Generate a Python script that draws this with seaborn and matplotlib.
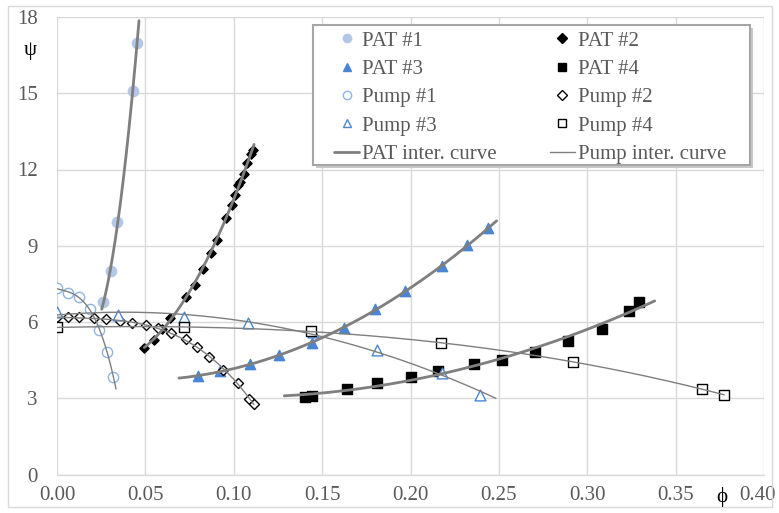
import numpy as np
import pandas as pd
import matplotlib
matplotlib.use("Agg")
import matplotlib.pyplot as plt
import matplotlib.transforms as mtransforms
from matplotlib.lines import Line2D
from matplotlib.patches import Rectangle
import seaborn as sns

# ---- measured points (flow coefficient phi, head coefficient psi) ----
pat1_phi = [0.0262, 0.0304, 0.0341, 0.0430, 0.0452]
pat1_psi = [6.78, 7.99, 9.94, 15.08, 16.97]

pat2_phi = [0.0494, 0.0547, 0.0592, 0.0639, 0.0728, 0.0779, 0.0828, 0.0872, 0.0905,
            0.0954, 0.0988, 0.1005, 0.1022, 0.1037, 0.1060, 0.1073, 0.1096, 0.1110]
pat2_psi = [4.96, 5.29, 5.72, 6.15, 7.00, 7.47, 8.07, 8.72, 9.22,
            10.10, 10.60, 11.00, 11.38, 11.51, 11.84, 12.24, 12.60, 12.76]

pat3_phi = [0.0799, 0.0922, 0.1090, 0.1256, 0.1440, 0.1623, 0.1800, 0.1970, 0.2176, 0.2321, 0.2440]
pat3_psi = [3.87, 4.08, 4.33, 4.70, 5.16, 5.77, 6.50, 7.22, 8.20, 9.02, 9.68]

pat4_phi = [0.1403, 0.1444, 0.1642, 0.1813, 0.2002, 0.2157, 0.2360, 0.2519,
            0.2704, 0.2892, 0.3083, 0.3235, 0.3290]
pat4_psi = [3.04, 3.09, 3.36, 3.59, 3.82, 4.07, 4.33, 4.52,
            4.83, 5.25, 5.72, 6.44, 6.80]

pump1_phi = [0.0000, 0.0060, 0.0124, 0.0185, 0.0240, 0.0283, 0.0319]
pump1_psi = [7.32, 7.16, 6.99, 6.51, 5.68, 4.83, 3.85]

pump2_phi = [0.0000, 0.0064, 0.0126, 0.0211, 0.0277, 0.0356, 0.0422, 0.0503, 0.0573,
             0.0645, 0.0728, 0.0794, 0.0862, 0.0941, 0.1022, 0.1088, 0.1114]
pump2_psi = [6.18, 6.18, 6.18, 6.14, 6.11, 6.04, 5.97, 5.88, 5.75,
             5.55, 5.32, 5.03, 4.61, 4.11, 3.61, 2.98, 2.77]

pump3_phi = [0.0000, 0.0347, 0.0720, 0.1078, 0.1450, 0.1808, 0.2181, 0.2396]
pump3_psi = [6.40, 6.27, 6.20, 5.97, 5.60, 4.90, 4.00, 3.13]

pump4_phi = [0.0000, 0.0720, 0.1437, 0.2172, 0.2920, 0.3650, 0.3775]
pump4_psi = [5.79, 5.79, 5.65, 5.16, 4.44, 3.36, 3.13]

# polynomial interpolation curves: degree and phi extent of each
pat_fit_deg = [2, 2, 2, 2]
pat_fit_range = [(0.0253, 0.0464), (0.0494, 0.1115), (0.0690, 0.2487), (0.1286, 0.3382)]
pump_fit_deg = [3, 3, 2, 3]
pump_fit_range = [(0.0, 0.0334), (0.0, 0.1114), (0.0, 0.2483), (0.0, 0.3775)]

x_ticks = [0.00, 0.05, 0.10, 0.15, 0.20, 0.25, 0.30, 0.35, 0.40]
y_ticks = [0, 3, 6, 9, 12, 15, 18]

sns.set_theme(style="white")
plt.rcParams["font.family"] = ["Liberation Serif", "DejaVu Serif"]

LIGHT_BLUE = "#b4c7e7"
PALE_BLUE = "#8fb4e3"
BLUE = "#4a86d3"
CURVE = "#7f7f7f"
TICK = "#595959"

W, H = 779, 513
fig = plt.figure(figsize=(W / 100, H / 100), dpi=100)
ax = fig.add_axes([57 / W, 1 - 474.5 / H, (764 - 57) / W, (474.5 - 17) / H])

series = [
    ("PAT #1", pat1_phi, pat1_psi, dict(marker="o", s=55, color=LIGHT_BLUE, edgecolor=LIGHT_BLUE)),
    ("PAT #2", pat2_phi, pat2_psi, dict(marker="D", s=22, color="black", edgecolor="black")),
    ("PAT #3", pat3_phi, pat3_psi, dict(marker="^", s=55, color=BLUE, edgecolor=BLUE)),
    ("PAT #4", pat4_phi, pat4_psi, dict(marker="s", s=52, color="black", edgecolor="black")),
    ("Pump #1", pump1_phi, pump1_psi, dict(marker="o", s=55, facecolor="white", edgecolor=PALE_BLUE)),
    ("Pump #2", pump2_phi, pump2_psi, dict(marker="D", s=26, facecolor="white", edgecolor="black")),
    ("Pump #3", pump3_phi, pump3_psi, dict(marker="^", s=60, facecolor="white", edgecolor=BLUE)),
    ("Pump #4", pump4_phi, pump4_psi, dict(marker="s", s=52, facecolor="white", edgecolor="black")),
]

for name, phi, psi, kw in series:
    df = pd.DataFrame({"phi": phi, "psi": psi})
    sns.scatterplot(data=df, x="phi", y="psi", ax=ax, linewidth=1.0, zorder=3, legend=False, **kw)

# interpolation curves fitted to each data set
pat_sets = [(pat1_phi, pat1_psi), (pat2_phi, pat2_psi), (pat3_phi, pat3_psi), (pat4_phi, pat4_psi)]
pump_sets = [(pump1_phi, pump1_psi), (pump2_phi, pump2_psi), (pump3_phi, pump3_psi), (pump4_phi, pump4_psi)]

def fitted(phi, psi, deg, rng):
    coef = np.polyfit(phi, psi, deg)
    xs = np.linspace(rng[0], rng[1], 200)
    return pd.DataFrame({"phi": xs, "psi": np.polyval(coef, xs)})

for (phi, psi), deg, rng in zip(pat_sets, pat_fit_deg, pat_fit_range):
    sns.lineplot(data=fitted(phi, psi, deg, rng), x="phi", y="psi", ax=ax,
                 color=CURVE, linewidth=2.0, sort=False, estimator=None, zorder=4)
for (phi, psi), deg, rng in zip(pump_sets, pump_fit_deg, pump_fit_range):
    sns.lineplot(data=fitted(phi, psi, deg, rng), x="phi", y="psi", ax=ax,
                 color=CURVE, linewidth=1.0, sort=False, estimator=None, zorder=4)

ax.set_xlim(0, 0.40)
ax.set_ylim(0, 18)
ax.set_xticks(x_ticks)
ax.set_xticklabels([f"{t:.2f}" for t in x_ticks])
ax.set_yticks(y_ticks)
ax.set_xlabel("")
ax.set_ylabel("")
ax.grid(True, color="#d9d9d9", linewidth=1.0, zorder=0)
ax.set_axisbelow(True)
for side in ["top", "right", "left"]:
    ax.spines[side].set_visible(False)
ax.spines["bottom"].set_color("#d9d9d9")
ax.spines["bottom"].set_linewidth(1.0)
ax.tick_params(axis="both", length=0, labelsize=15, labelcolor=TICK)
ax.tick_params(axis="y", pad=14)
ax.tick_params(axis="x", pad=8)

# keep the last x label inside the chart edge
last = ax.get_xticklabels()[-1]
last.set_transform(last.get_transform() + mtransforms.ScaledTranslation(-7 / 100, 0, fig.dpi_scale_trans))

fig.text(30 / W, 1 - 50 / H, "ψ", fontsize=15, color="black", ha="center", va="center")
fig.text(722 / W, 1 - 497 / H, "ϕ", fontsize=15, color="black", ha="center", va="center")

# legend frame with a soft drop shadow
fx0, fy0, fx1, fy1 = 313, 25, 750, 165
shadow = Rectangle(((fx0 + 3) / W, 1 - (fy1 + 3) / H), (fx1 - fx0) / W, (fy1 - fy0) / H,
                   transform=fig.transFigure, facecolor="#c8c8c8", edgecolor="none",
                   zorder=5, clip_on=False)
frame = Rectangle((fx0 / W, 1 - fy1 / H), (fx1 - fx0) / W, (fy1 - fy0) / H,
                  transform=fig.transFigure, facecolor="white", edgecolor="#a6a6a6",
                  linewidth=1.5, zorder=5.5, clip_on=False)
ax.add_patch(shadow)
ax.add_patch(frame)

def mk(kw):
    face = kw.get("facecolor", kw.get("color"))
    return Line2D([], [], linestyle="none", marker=kw["marker"],
                  markersize=6 if kw["marker"] != "D" else 5,
                  markerfacecolor=face, markeredgecolor=kw["edgecolor"], markeredgewidth=1.0)

h = {name: mk(kw) for name, _, _, kw in series}
pat_line = Line2D([], [], color=CURVE, linewidth=2.0)
pump_line = Line2D([], [], color=CURVE, linewidth=1.0)
order = ["PAT #1", "PAT #3", "Pump #1", "Pump #3", "PAT inter. curve",
         "PAT #2", "PAT #4", "Pump #2", "Pump #4", "Pump inter. curve"]
handles = [h.get(n, pat_line if n.startswith("PAT inter") else pump_line) for n in order]
leg = fig.legend(handles, order, ncol=2, loc="upper left",
                 bbox_to_anchor=(334 / W, 1 - 31 / H),
                 fontsize=15, frameon=False,
                 handlelength=1.2, handletextpad=0.15, columnspacing=2.55,
                 labelspacing=0.42, borderpad=0, borderaxespad=0)
leg.set_zorder(7)
for t in leg.get_texts():
    t.set_color(TICK)

fig.patches.append(Rectangle((8 / W, 6 / H), 764 / W, 501 / H, transform=fig.transFigure,
                             fill=False, edgecolor="#d9d9d9", linewidth=1.0))

fig.savefig("out.png", dpi=100)
